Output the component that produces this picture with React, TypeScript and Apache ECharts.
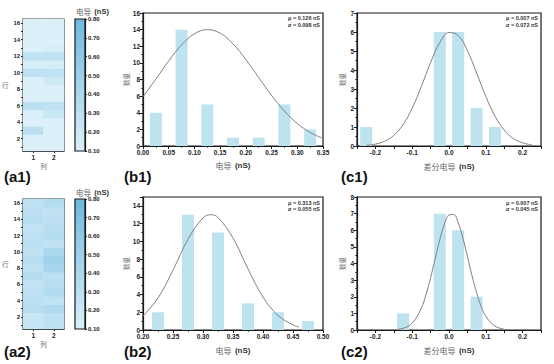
import React, { useEffect, useRef } from 'react';
import * as echarts from 'echarts';

const FONT = '"Liberation Sans", Arial, sans-serif';
const CJK = '"Noto Sans CJK SC", sans-serif';

// ---------- heatmap data (rows 1..16) ----------
const HEAT_COLS = ['1', '2'];
const HEAT_ROWS = ['1', '2', '3', '4', '5', '6', '7', '8', '9', '10', '11', '12', '13', '14', '15', '16'];
const a1Col1 = [0.08, 0.04, 0.30, 0.04, 0.12, 0.31, 0.07, 0.04, 0.09, 0.29, 0.12, 0.27, 0.08, 0.07, 0.08, 0.06];
const a1Col2 = [0.09, 0.11, 0.07, 0.03, 0.22, 0.28, 0.08, 0.06, 0.18, 0.27, 0.14, 0.28, 0.13, 0.09, 0.07, 0.07];
const a2Col1 = [0.23, 0.22, 0.32, 0.31, 0.29, 0.26, 0.34, 0.28, 0.32, 0.27, 0.31, 0.29, 0.26, 0.33, 0.30, 0.28];
const a2Col2 = [0.28, 0.31, 0.38, 0.27, 0.37, 0.33, 0.29, 0.44, 0.48, 0.41, 0.28, 0.34, 0.32, 0.29, 0.27, 0.36];
const COLORBAR_MIN = 0.1;
const COLORBAR_MAX = 0.8;

// ---------- histogram data ----------
const b1Bins = [0.025, 0.075, 0.125, 0.175, 0.225, 0.275, 0.325];
const b1Counts = [4, 14, 5, 1, 1, 5, 2];
const b2Bins = [0.225, 0.275, 0.325, 0.375, 0.425, 0.475];
const b2Counts = [2, 13, 11, 3, 2, 1];
const c1Bins = [-0.225, -0.025, 0.025, 0.075, 0.125];
const c1Counts = [1, 6, 6, 2, 1];
const c2Bins = [-0.125, -0.025, 0.025, 0.075];
const c2Counts = [1, 7, 6, 2];

// ---------- fitted curves ----------
const b1CurveX = [0, 0.025, 0.05, 0.075, 0.1, 0.125, 0.15, 0.175, 0.2, 0.225, 0.25, 0.275, 0.3, 0.325, 0.35];
const b1CurveY = [5.92, 8.05, 10.23, 12.16, 13.5, 14.0, 13.57, 12.29, 10.4, 8.23, 6.08, 4.2, 2.71, 1.63, 0.92];
const b2CurveX = [0.2, 0.225, 0.25, 0.275, 0.3, 0.313, 0.325, 0.35, 0.375, 0.4, 0.425, 0.45, 0.46];
const b2CurveY = [1.58, 3.61, 6.75, 10.24, 12.64, 13.0, 12.69, 10.37, 6.89, 3.72, 1.64, 0.58, 0.33];
const c1CurveX = [-0.225, -0.2, -0.175, -0.15, -0.125, -0.1, -0.075, -0.05, -0.025, 0, 0.025, 0.05, 0.075, 0.1, 0.125, 0.15, 0.175, 0.2, 0.225];
const c1CurveY = [0.03, 0.1, 0.25, 0.56, 1.12, 1.99, 3.14, 4.39, 5.44, 5.97, 5.82, 5.02, 3.84, 2.61, 1.57, 0.84, 0.39, 0.17, 0.06];
const c2CurveX = [-0.15, -0.125, -0.1, -0.075, -0.0625, -0.05, -0.0375, -0.025, -0.0125, 0, 0.0125, 0.025, 0.0375, 0.05, 0.0625, 0.075, 0.0875, 0.1, 0.125, 0.15];
const c2CurveY = [0.02, 0.1, 0.41, 1.33, 2.13, 3.14, 4.29, 5.44, 6.37, 6.92, 6.95, 6.46, 5.56, 4.43, 3.27, 2.24, 1.41, 0.83, 0.23, 0.05];

// ---------- texts ----------
const fitTexts = [
  ['μ = 0.126 nS', 'σ = 0.098 nS'],
  ['μ = 0.007 nS', 'σ = 0.072 nS'],
  ['μ = 0.313 nS', 'σ = 0.055 nS'],
  ['μ = 0.007 nS', 'σ = 0.045 nS'],
];
const panelLabels = ['(a1)', '(b1)', '(c1)', '(a2)', '(b2)', '(c2)'];

const LIGHT = '#dbf0f9';
const DARK = '#6db9df';
const BAR = '#bde3ef';
const CURVE = '#808080';
const INK = '#1a1a1a';

const axisLine = { show: true, onZero: false, lineStyle: { color: INK, width: 1.2 } };
const tick = { show: true, inside: false, length: 3, lineStyle: { color: INK, width: 1 } };
const minor = { show: true, splitNumber: 2, length: 1.8, lineStyle: { color: INK, width: 0.8 } };
const lbl = { fontSize: 6.5, fontWeight: 'bold', color: '#222', margin: 3, fontFamily: FONT };
const cnName = { fontFamily: CJK, fontSize: 6.5, color: '#666' };
const richName = (cn: string) => ({
  name: `{c|${cn}} {e|(nS)}`,
  nameTextStyle: {
    rich: {
      c: { fontFamily: CJK, fontSize: 8, color: '#666' },
      e: { fontFamily: FONT, fontSize: 8, fontWeight: 'bold', color: '#333' },
    },
  },
});

function heatX(grid: number) {
  return {
    type: 'category', gridIndex: grid, data: HEAT_COLS,
    axisLine, axisTick: { ...tick, length: 2, alignWithLabel: true }, axisLabel: lbl,
    splitLine: { show: false },
    name: '列', nameLocation: 'middle', nameGap: 12, nameTextStyle: cnName,
  };
}
function heatY(grid: number) {
  return {
    type: 'category', gridIndex: grid, data: HEAT_ROWS,
    axisLine, axisTick: { ...tick, length: 2, alignWithLabel: true, interval: 0 },
    axisLabel: { ...lbl, fontSize: 6, interval: (i: number) => (i + 1) % 2 === 0 },
    splitLine: { show: false },
    name: '行', nameLocation: 'middle', nameGap: 14, nameRotate: 0, nameTextStyle: cnName,
  };
}
function cbX(grid: number) {
  return { type: 'value', gridIndex: grid, show: false, min: 0, max: 1 };
}
function cbY(grid: number) {
  return {
    type: 'value', gridIndex: grid, position: 'right', min: COLORBAR_MIN, max: COLORBAR_MAX, interval: 0.1,
    axisLine, axisTick: { ...tick, length: 2 }, splitLine: { show: false },
    axisLabel: { ...lbl, fontSize: 6, formatter: (v: number) => v.toFixed(2) },
  };
}
function bX(grid: number, min: number, max: number, gap: number) {
  return {
    type: 'value', gridIndex: grid, min, max, interval: 0.05,
    axisLine, axisTick: tick, minorTick: minor, splitLine: { show: false },
    axisLabel: { ...lbl, formatter: (v: number) => v.toFixed(2) },
    nameLocation: 'middle', nameGap: gap, ...richName('电导'),
  };
}
function cX(grid: number, gap: number) {
  return {
    type: 'value', gridIndex: grid, min: -0.25, max: 0.25, interval: 0.05,
    axisLine, axisTick: tick, splitLine: { show: false },
    axisLabel: {
      ...lbl,
      formatter: (v: number) => (Math.abs(Math.round(v * 100)) % 10 === 0 ? v.toFixed(1) : ''),
    },
    nameLocation: 'middle', nameGap: gap, ...richName('差分电导'),
  };
}
function countY(grid: number, max: number, interval: number, gap: number, hideTop: boolean) {
  return {
    type: 'value', gridIndex: grid, min: 0, max, interval,
    axisLine, axisTick: tick, minorTick: minor, splitLine: { show: false },
    axisLabel: { ...lbl, formatter: (v: number) => (hideTop && v === max ? '' : String(v)) },
    name: '数量', nameLocation: 'middle', nameGap: gap, nameTextStyle: cnName,
  };
}

const heatData = (c1: number[], c2: number[]) => {
  const out: number[][] = [];
  c1.forEach((v, r) => out.push([0, r, v]));
  c2.forEach((v, r) => out.push([1, r, v]));
  return out;
};
const zip = (xs: number[], ys: number[]) => xs.map((x, i) => [x, ys[i]]);

function barSeries(axis: number, xs: number[], ys: number[]) {
  return {
    type: 'bar', xAxisIndex: axis, yAxisIndex: axis, data: zip(xs, ys), barWidth: 12,
    itemStyle: { color: BAR }, emphasis: { disabled: true }, z: 2,
  };
}
function curveSeries(axis: number, xs: number[], ys: number[]) {
  return {
    type: 'line', xAxisIndex: axis, yAxisIndex: axis, data: zip(xs, ys), smooth: 0.4,
    symbol: 'none', lineStyle: { color: CURVE, width: 1 }, z: 3, clip: true,
  };
}

const frame = { show: true, borderColor: INK, borderWidth: 1.2, backgroundColor: 'transparent' };
const cbFill = new echarts.graphic.LinearGradient(0, 0, 0, 1, [
  { offset: 0, color: DARK },
  { offset: 1, color: LIGHT },
]);

const ROW1 = { plotTop: 13, plotH: 133, heatTop: 19, heatH: 132, label: 176, cbTitle: 11, fit: 18 };
const ROW2 = { plotTop: 197, plotH: 133, heatTop: 199, heatH: 130, label: 351, cbTitle: 192, fit: 202.5 };

const grids: any[] = [];
[ROW1, ROW2].forEach((R) => {
  grids.push({ ...frame, left: 23, top: R.heatTop, width: 41, height: R.heatH });
  grids.push({ ...frame, left: 75, top: R.heatTop, width: 10, height: R.heatH, backgroundColor: cbFill });
  grids.push({ ...frame, left: 143, top: R.plotTop, width: 180, height: R.plotH });
  grids.push({ ...frame, left: 357, top: R.plotTop, width: 184, height: R.plotH });
});

const option: any = {
  animation: false,
  backgroundColor: '#ffffff',
  textStyle: { fontFamily: FONT },
  grid: grids,
  xAxis: [
    heatX(0), cbX(1), bX(2, 0, 0.35, 13), cX(3, 14),
    heatX(4), cbX(5), bX(6, 0.2, 0.5, 14), cX(7, 14),
  ],
  yAxis: [
    heatY(0), cbY(1), countY(2, 16, 2, 9, false), countY(3, 7, 1, 12, false),
    heatY(4), cbY(5), countY(6, 15, 2, 9, true), countY(7, 8, 1, 12, false),
  ],
  visualMap: {
    type: 'continuous', show: false, min: COLORBAR_MIN, max: COLORBAR_MAX,
    seriesIndex: [0, 1], dimension: 2, inRange: { color: [LIGHT, DARK] },
  },
  series: [
    { type: 'heatmap', xAxisIndex: 0, yAxisIndex: 0, data: heatData(a1Col1, a1Col2), emphasis: { disabled: true } },
    { type: 'heatmap', xAxisIndex: 4, yAxisIndex: 4, data: heatData(a2Col1, a2Col2), emphasis: { disabled: true } },
    barSeries(2, b1Bins, b1Counts), curveSeries(2, b1CurveX, b1CurveY),
    barSeries(3, c1Bins, c1Counts), curveSeries(3, c1CurveX, c1CurveY),
    barSeries(6, b2Bins, b2Counts), curveSeries(6, b2CurveX, b2CurveY),
    barSeries(7, c2Bins, c2Counts), curveSeries(7, c2CurveX, c2CurveY),
  ],
  graphic: [] as any[],
};

// panel labels
const labelX = [4, 124, 341];
[ROW1, ROW2].forEach((R, ri) => {
  labelX.forEach((x, ci) => {
    option.graphic.push({
      type: 'text', x, y: R.label,
      style: { text: panelLabels[ri * 3 + ci], fontSize: 15, fontWeight: 'bold', fill: '#111', fontFamily: FONT, verticalAlign: 'middle' },
    });
  });
  // colorbar title
  option.graphic.push({
    type: 'text', x: 76, y: R.cbTitle,
    style: {
      text: '{c|电导} {e|(nS)}', verticalAlign: 'middle',
      rich: {
        c: { fontFamily: CJK, fontSize: 7.5, fill: '#666' },
        e: { fontFamily: FONT, fontSize: 7.5, fontWeight: 'bold', fill: '#333' },
      },
    },
  });
  // fit texts
  [320, 538].forEach((x, ci) => {
    const t = fitTexts[ri * 2 + ci];
    t.forEach((line, li) => {
      option.graphic.push({
        type: 'text', x, y: R.fit + li * 6.5,
        style: { text: line, align: 'right', verticalAlign: 'middle', fontSize: 5.5, fontWeight: 'bold', fill: '#333', fontFamily: FONT },
      });
    });
  });
});

export default function App() {
  const ref = useRef<HTMLDivElement>(null);
  useEffect(() => {
    const chart = echarts.init(ref.current as HTMLDivElement, null, { renderer: 'svg' });
    chart.setOption(option);
    return () => chart.dispose();
  }, []);
  return (
    <div
      ref={ref}
      style={{ position: 'absolute', left: 0, top: 0, width: 554, height: 364, background: '#fff' }}
    />
  );
}
